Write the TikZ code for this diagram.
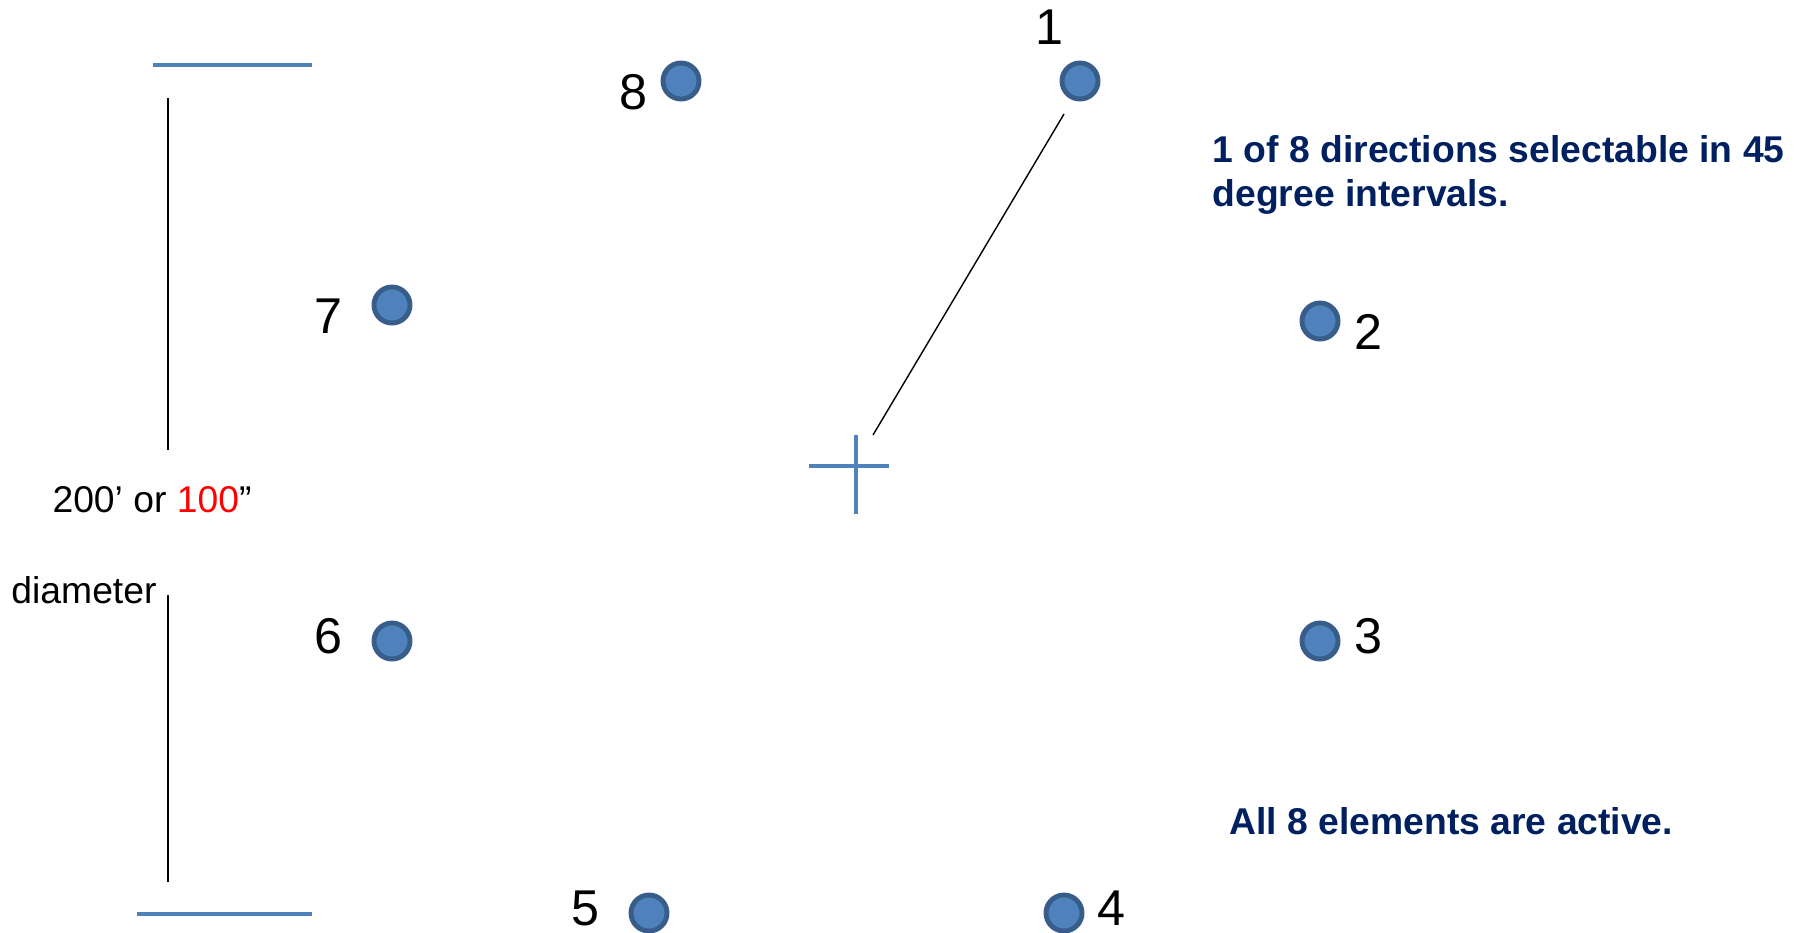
\documentclass[tikz,border=0pt]{standalone}
\usepackage{fontspec}
\setmainfont{Liberation Sans}
\usetikzlibrary{positioning}
\definecolor{elemfill}{HTML}{4F81BD}
\definecolor{elemedge}{HTML}{385D8A}
\definecolor{notenavy}{HTML}{002060}

\tikzset{
  element/.style={circle, fill=elemfill, draw=elemedge, line width=1.4pt, minimum size=0.36cm, inner sep=0pt},
  elemnum/.style={font=\fontsize{14.3}{16}\selectfont, inner sep=0pt},
  note/.style={font=\fontsize{10.6}{12.6}\selectfont\bfseries, text=notenavy, align=left, inner sep=0pt},
  dimtext/.style={font=\fontsize{10.6}{12}\selectfont, inner sep=0pt},
  bluerule/.style={draw=elemfill, line width=0.9pt},
}

\begin{document}
\begin{tikzpicture}[x=0.01cm, y=-0.01cm]
\useasboundingbox (0,0) rectangle (1794,932);

% Elements
\node[element] (e1) at (1080, 81) {};
\node[element] (e2) at (1320,321) {};
\node[element] (e3) at (1320,641) {};
\node[element] (e4) at (1064,913) {};
\node[element] (e5) at (649,913) {};
\node[element] (e6) at (392,641) {};
\node[element] (e7) at (392,305) {};
\node[element] (e8) at (681, 81) {};

% Element numbers
\node[elemnum] (n1) at (1049, 27) {1};
\node[elemnum] (n2) at (1368,332) {2};
\node[elemnum] (n3) at (1368,636) {3};
\node[elemnum] (n4) at (1111,908) {4};
\node[elemnum] (n5) at (585,908) {5};
\node[elemnum] (n6) at (328,636) {6};
\node[elemnum] (n7) at (328,316) {7};
\node[elemnum] (n8) at (633, 92) {8};

% Centre cross and direction arm
\coordinate (hub) at (856,466);
\draw[bluerule] (809,466) -- (889,466);
\draw[bluerule] (856,435) -- (856,514);
\coordinate (armtop) at (1064,114);
\coordinate (armend) at (873,435);
\draw[black, thin] (armtop) -- (armend);

% Diameter
\coordinate (dtop) at (168,98);
\coordinate (dmid1) at (168,450);
\coordinate (dmid2) at (168,595);
\coordinate (dbot) at (168,882);
\draw[bluerule] (153,65) -- (312,65);
\draw[bluerule] (137,914) -- (312,914);
\draw[black, thin] (dtop) -- (dmid1);
\draw[black, thin] (dmid2) -- (dbot);
\node[dimtext] (dlen) at (152,500) {200’ or \textcolor{red}{100}”};
\node[dimtext] (dword) at (84,590) {diameter};

% Notes
\node[note, anchor=west] (sel) at (1212,175) {1 of 8 directions selectable in 45\\degree intervals.};
\node[note, anchor=west] (act) at (1229,821) {All 8 elements are active.};

\end{tikzpicture}
\end{document}
